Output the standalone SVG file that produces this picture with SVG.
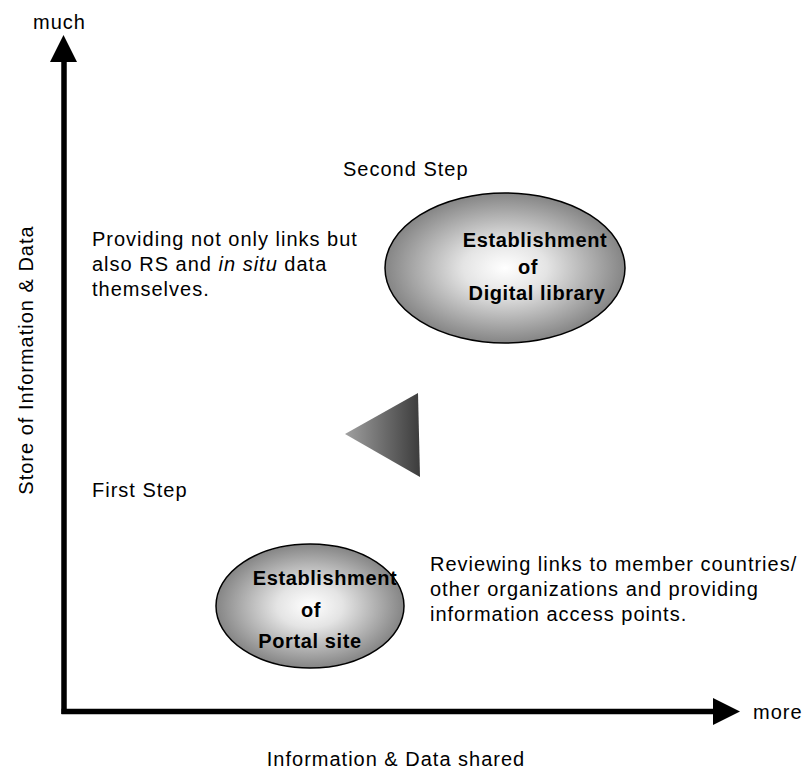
<svg xmlns="http://www.w3.org/2000/svg" width="810" height="770" viewBox="0 0 810 770">
  <defs>
    <radialGradient id="ovalFill" cx="50%" cy="50%" r="50%">
      <stop offset="0" stop-color="#ffffff"/>
      <stop offset="0.35" stop-color="#e4e4e4"/>
      <stop offset="1" stop-color="#858585"/>
    </radialGradient>
    <linearGradient id="triFill" x1="0" y1="0" x2="1" y2="0">
      <stop offset="0" stop-color="#a0a0a0"/>
      <stop offset="1" stop-color="#3c3c3c"/>
    </linearGradient>
    <style>
      text { font-family: "Liberation Sans", Arial, sans-serif; fill: #000; }
      .lbl { font-size: 20px; letter-spacing: 1px; }
      .bold { font-size: 20px; font-weight: bold; letter-spacing: 0.6px; text-anchor: middle; }
      .oval { fill: url(#ovalFill); stroke: #000; stroke-width: 1.5; }
      .axis { stroke: #000; stroke-width: 5.5; fill: none; }
    </style>
  </defs>

  <!-- axes -->
  <g id="connectors">
    <line class="axis" x1="64" y1="60" x2="64" y2="714"/>
    <polygon points="50,62 63.5,35 77,62" fill="#000"/>
    <line class="axis" x1="61.5" y1="711.5" x2="715" y2="711.5"/>
    <polygon points="713,698 740,711.5 713,725" fill="#000"/>
  </g>

  <!-- axis labels -->
  <text class="lbl" x="33" y="29">much</text>
  <text class="lbl" x="753" y="719">more</text>
  <text class="lbl" x="396" y="766" text-anchor="middle">Information &amp; Data shared</text>
  <text class="lbl" transform="translate(33,360) rotate(-90)" text-anchor="middle">Store of Information &amp; Data</text>

  <!-- step marker -->
  <polygon points="345,434 418,393 420,477" fill="url(#triFill)"/>

  <!-- second step -->
  <g id="second-step">
    <text class="lbl" x="343" y="176">Second Step</text>
    <ellipse class="oval" cx="505" cy="268" rx="120" ry="75"/>
    <text class="bold" x="535" y="247">Establishment</text>
    <text class="bold" x="528" y="274">of</text>
    <text class="bold" x="537" y="300">Digital library</text>
  </g>
  <g id="second-note">
    <text class="lbl" x="92" y="246">Providing not only links but</text>
    <text class="lbl" x="92" y="271">also RS and <tspan font-style="italic">in situ</tspan> data</text>
    <text class="lbl" x="92" y="296">themselves.</text>
  </g>

  <!-- first step -->
  <g id="first-step">
    <text class="lbl" x="92" y="497">First Step</text>
    <ellipse class="oval" cx="310" cy="606" rx="94" ry="62"/>
    <text class="bold" x="325" y="585">Establishment</text>
    <text class="bold" x="311" y="617">of</text>
    <text class="bold" x="310" y="648">Portal site</text>
  </g>
  <g id="first-note">
    <text class="lbl" x="430" y="571">Reviewing links to member countries/</text>
    <text class="lbl" x="430" y="596">other organizations and providing</text>
    <text class="lbl" x="430" y="621">information access points.</text>
  </g>
</svg>
